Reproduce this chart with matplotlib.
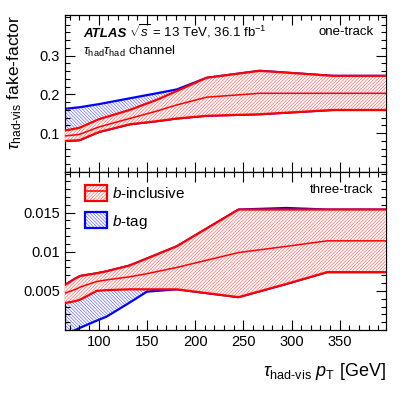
import matplotlib
matplotlib.use("Agg")
import matplotlib.pyplot as plt
from matplotlib.patches import Patch
from matplotlib.lines import Line2D
from matplotlib.ticker import MultipleLocator, FixedLocator, FixedFormatter
import numpy as np

plt.rcParams['font.family'] = ['Liberation Sans', 'DejaVu Sans']
plt.rcParams['mathtext.fontset'] = 'custom'
plt.rcParams['mathtext.rm'] = 'Liberation Sans'
plt.rcParams['mathtext.it'] = 'Liberation Sans:italic'
plt.rcParams['mathtext.bf'] = 'Liberation Sans:bold'
plt.rcParams['hatch.linewidth'] = 0.5

# one-track panel
x1 = [65, 80, 100, 132, 160, 181, 212, 267, 343, 400]
incl_up1 = [0.107, 0.114, 0.136, 0.160, 0.186, 0.209, 0.243, 0.261, 0.248, 0.248]
incl_mid1 = [0.093, 0.097, 0.116, 0.138, 0.157, 0.173, 0.193, 0.203, 0.203, 0.203]
incl_lo1 = [0.080, 0.082, 0.103, 0.123, 0.131, 0.138, 0.145, 0.149, 0.160, 0.160]
btag_up1 = [0.163, 0.167, 0.175, 0.190, 0.203, 0.213, 0.243, 0.261, 0.248, 0.248]
btag_lo1 = [0.080, 0.082, 0.103, 0.123, 0.131, 0.138, 0.145, 0.149, 0.160, 0.160]

# three-track panel
x3 = [65, 76, 81, 98, 108, 132, 150, 181, 245, 295, 337, 400]
incl_up3 = [0.00575, 0.0066, 0.00691, 0.00725, 0.0075, 0.00824, 0.00914, 0.0107, 0.0154, 0.0154, 0.0154, 0.0154]
incl_mid3 = [0.00472, 0.0052, 0.0055, 0.0062, 0.0064, 0.0068, 0.0072, 0.0080, 0.0099, 0.0107, 0.0114, 0.0114]
incl_lo3 = [0.00345, 0.0037, 0.0039, 0.0050, 0.0051, 0.0052, 0.0052, 0.0052, 0.0042, 0.0059, 0.0074, 0.0074]
btag_up3 = [0.00575, 0.0066, 0.00691, 0.00725, 0.0075, 0.00824, 0.00914, 0.0107, 0.0154, 0.0156, 0.0154, 0.0154]
btag_lo3 = [-0.0006, 0.0000, 0.0003, 0.0012, 0.0017, 0.0035, 0.0049, 0.0052, 0.0042, 0.0059, 0.0074, 0.0074]

RED = '#ff0000'
BLUE = '#0000ff'
RED_H = '#ff6a6a'
BLUE_H = '#6a6aff'
HATCH_R = '/' * 10
HATCH_B = '\\' * 10

fig = plt.figure(figsize=(4.07, 3.93), dpi=100)
L, R = 65/407, 386/407
ax1 = fig.add_axes([L, 1-172/393, R-L, (172-15)/393])
ax2 = fig.add_axes([L, 1-330/393, R-L, (330-172)/393])


def band(ax, x, lo, up, color, hcolor, hatch, face, lw=1.6, z=1):
    ax.fill_between(x, lo, up, facecolor=face, edgecolor=hcolor, hatch=hatch,
                    linewidth=0, zorder=z)
    ax.plot(x, up, color=color, lw=lw, zorder=z+0.5)
    ax.plot(x, lo, color=color, lw=lw, zorder=z+0.5)


for ax, x, bl, bu, il, im, iu in [
        (ax1, x1, btag_lo1, btag_up1, incl_lo1, incl_mid1, incl_up1),
        (ax2, x3, btag_lo3, btag_up3, incl_lo3, incl_mid3, incl_up3)]:
    band(ax, x, bl, bu, BLUE, BLUE_H, HATCH_B, 'none', z=1)
    band(ax, x, il, iu, RED, RED_H, HATCH_R, 'white', z=3)
    ax.plot(x, im, color=RED, lw=1.1, zorder=4)

for ax in (ax1, ax2):
    ax.set_xlim(65, 398)
    ax.xaxis.set_major_locator(MultipleLocator(50))
    ax.xaxis.set_minor_locator(MultipleLocator(10))
    ax.tick_params(which='both', direction='in', top=True, right=True, labelsize=10.5)
    ax.tick_params(which='major', length=7, width=0.8)
    ax.tick_params(which='minor', length=3.5, width=0.8)
    for s in ax.spines.values():
        s.set_linewidth(0.9)

ax1.set_ylim(0, 0.405)
ax1.yaxis.set_major_locator(FixedLocator([0.1, 0.2, 0.3]))
ax1.yaxis.set_major_formatter(FixedFormatter(['0.1', '0.2', '0.3']))
ax1.yaxis.set_minor_locator(MultipleLocator(0.02))
ax1.tick_params(labelbottom=False)

ax2.set_ylim(0, 0.0202)
ax2.yaxis.set_major_locator(FixedLocator([0.005, 0.01, 0.015]))
ax2.yaxis.set_major_formatter(FixedFormatter(['0.005', '0.01', '0.015']))
ax2.yaxis.set_minor_locator(MultipleLocator(0.001))

# texts
fig.text(83/407, 1-37/393, 'ATLAS', fontsize=9.5, fontweight='bold', fontstyle='italic')
fig.text(129/407, 1-37/393, r'$\sqrt{s}$ = 13 TeV, 36.1 fb$^{\mathregular{-1}}$', fontsize=9.5)
fig.text(83/407, 1-55/393, r'$\tau_{\mathregular{had}}\tau_{\mathregular{had}}$ channel', fontsize=9.5)
ax1.text(0.96, 0.87, 'one-track', transform=ax1.transAxes, ha='right', va='baseline', fontsize=9.5)
ax2.text(0.96, 0.87, 'three-track', transform=ax2.transAxes, ha='right', va='baseline', fontsize=9.5)

fig.text(15/407, 1-15/393, r'$\tau_{\mathregular{had\text{-}vis}}$ fake-factor', rotation=90,
         ha='center', va='top', fontsize=12.5)
fig.text(386/407, 1-376/393, r'$\tau_{\mathregular{had\text{-}vis}}$ $p_{\mathregular{T}}$ [GeV]',
         ha='right', va='baseline', fontsize=13)

# legend
h_incl = (Patch(facecolor='white', edgecolor=RED_H, hatch=HATCH_R, linewidth=0),
          Patch(facecolor='none', edgecolor=RED, linewidth=1.6),
          Line2D([], [], color=RED, lw=1.1))
h_btag = (Patch(facecolor='none', edgecolor=BLUE_H, hatch=HATCH_B, linewidth=0),
          Patch(facecolor='none', edgecolor=BLUE, linewidth=1.6))
leg = ax2.legend([h_incl, h_btag], [r'$b$-inclusive', r'$b$-tag'], loc='upper left',
                 bbox_to_anchor=(0.062, 0.92), frameon=False, fontsize=11,
                 handlelength=1.45, handleheight=1.25, handletextpad=0.3, labelspacing=0.75,
                 borderaxespad=0, borderpad=0)

fig.savefig('out.png', dpi=100)
